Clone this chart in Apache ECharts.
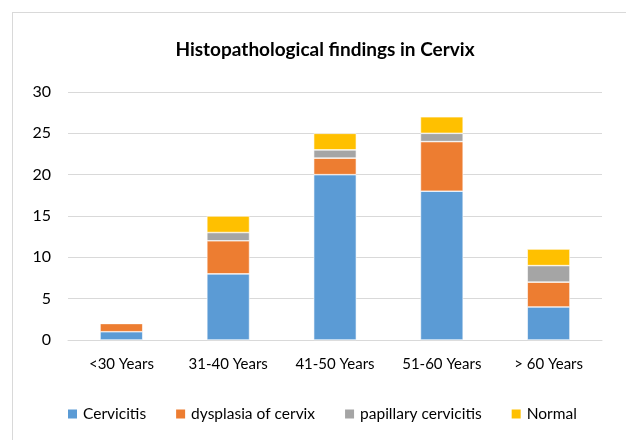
<!DOCTYPE html>
<html>
<head>
<meta charset="utf-8">
<script src="https://cdn.jsdelivr.net/npm/echarts@6/dist/echarts.min.js"></script>
<style>
  html, body { margin: 0; padding: 0; background: #fff; }
  #box { position: absolute; left: 12px; top: 12px; width: 640px; height: 440px; border: 1px solid #d9d9d9; box-sizing: border-box; }
  #chart { position: absolute; left: 0; top: 0; width: 626px; height: 440px; }
</style>
</head>
<body>
<div id="box"></div>
<div id="chart"></div>
<script>
var ageGroups = ['<30 Years', '31-40 Years', '41-50 Years', '51-60 Years', '> 60 Years'];
var cervicitis = [1, 8, 20, 18, 4];
var dysplasia = [1, 4, 2, 6, 3];
var papillary = [0, 1, 1, 1, 2];
var normal = [0, 2, 2, 2, 2];
var yTicks = [0, 5, 10, 15, 20, 25, 30];

var myChart = echarts.init(document.getElementById('chart'));

function bar(name, data, color) {
    return {
        name: name,
        type: 'bar',
        stack: 'all',
        barWidth: '40%',
        data: data,
        itemStyle: { color: color, borderColor: '#fff', borderWidth: 0.6 }
    };
}

var option = {
    animation: false,
    textStyle: { fontFamily: 'Lato' },
    title: {
        text: 'Histopathological findings in Cervix',
        left: 320,
        textAlign: 'center',
        top: 35,
        textStyle: { fontFamily: 'Lato', fontSize: 19, fontWeight: 'bold', color: '#000' }
    },
    legend: {
        top: 401,
        left: 61,
        itemWidth: 11,
        itemHeight: 11,
        itemGap: 28,
        icon: 'rect',
        textStyle: { fontFamily: 'Lato', fontSize: 15.5, color: '#000' },
        data: ['Cervicitis', 'dysplasia of cervix', 'papillary cervicitis', 'Normal']
    },
    grid: { left: 68, right: 24, top: 92, bottom: 100 },
    xAxis: {
        type: 'category',
        data: ageGroups,
        axisTick: { show: false },
        axisLine: { lineStyle: { color: '#d9d9d9' } },
        axisLabel: { fontFamily: 'Lato', fontSize: 15, color: '#000', margin: 17, interval: 0 }
    },
    yAxis: {
        type: 'value',
        min: yTicks[0],
        max: yTicks[yTicks.length - 1],
        interval: 5,
        axisLabel: { fontFamily: 'Lato', fontSize: 16, color: '#000', margin: 17 },
        splitLine: { lineStyle: { color: '#d9d9d9' } }
    },
    series: [
        bar('Cervicitis', cervicitis, '#5B9BD5'),
        bar('dysplasia of cervix', dysplasia, '#ED7D31'),
        bar('papillary cervicitis', papillary, '#A5A5A5'),
        bar('Normal', normal, '#FFC000')
    ]
};
myChart.setOption(option);
</script>
</body>
</html>
